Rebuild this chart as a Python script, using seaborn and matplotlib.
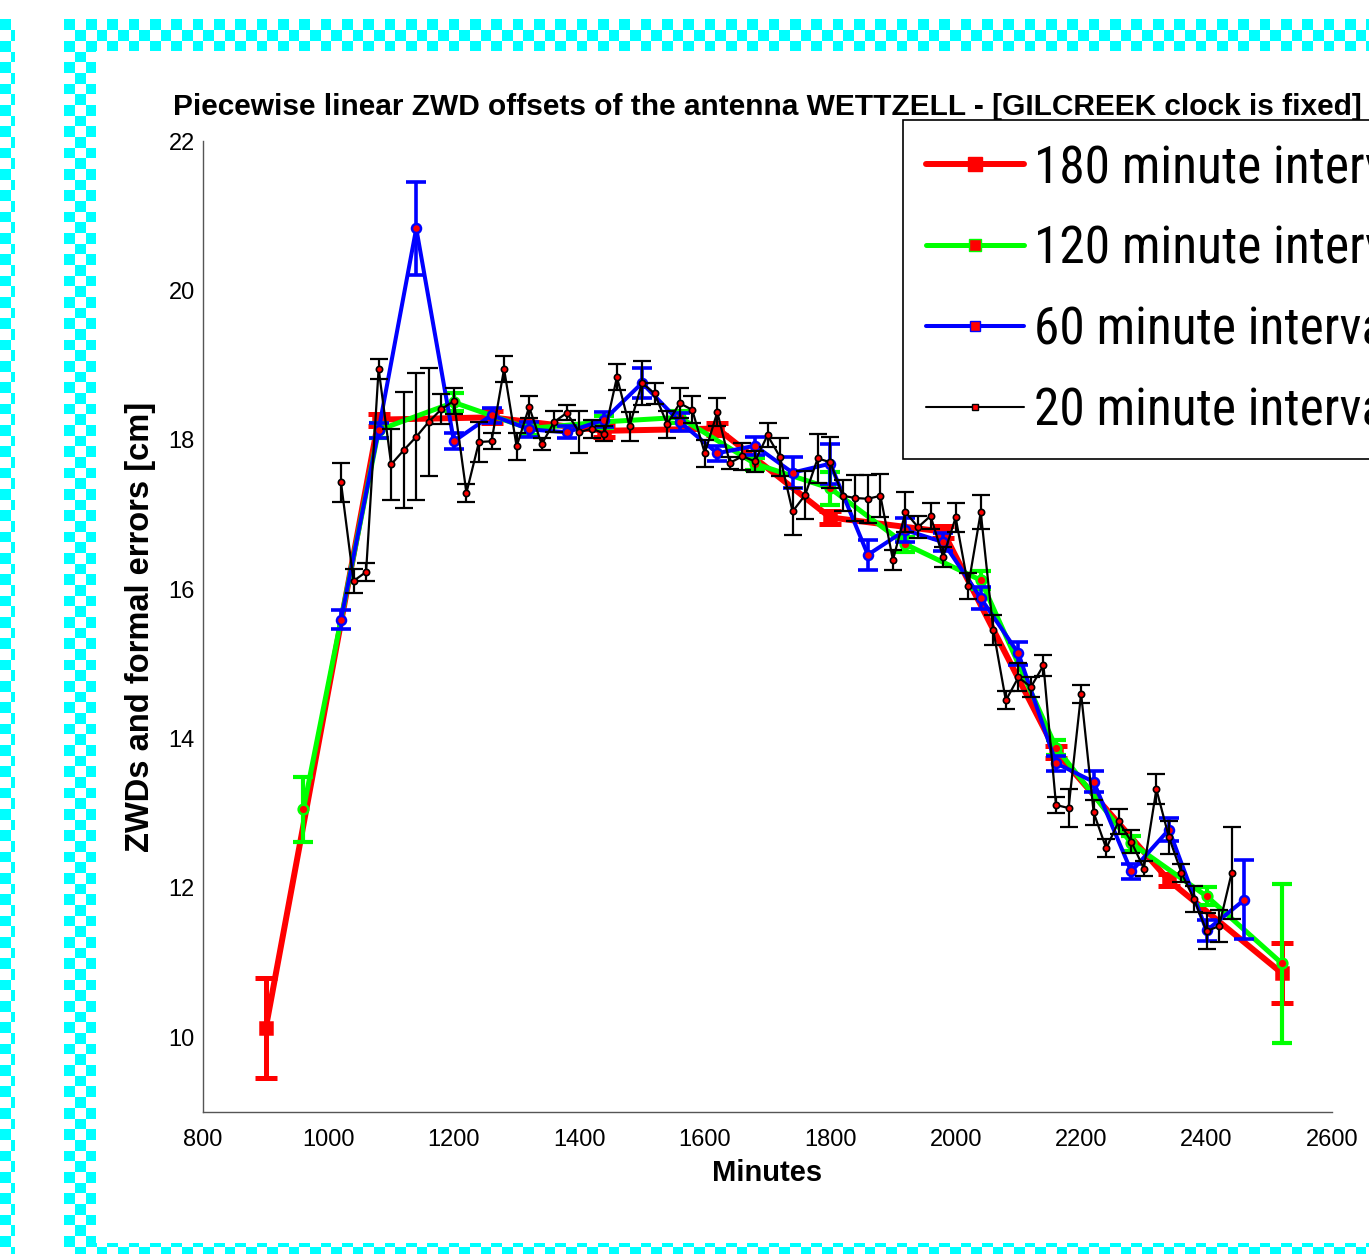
import numpy as np
import matplotlib
matplotlib.use("Agg")
import matplotlib.pyplot as plt
import seaborn as sns
from matplotlib.lines import Line2D

# ---------------- data ----------------
min180 = [900, 1080, 1260, 1440, 1620, 1800, 1980, 2160, 2340, 2520]
zwd180 = [10.12, 18.27, 18.30, 18.12, 18.15, 16.96, 16.77, 13.82, 12.10, 10.86]
err180 = [0.67, 0.08, 0.08, 0.08, 0.08, 0.09, 0.08, 0.08, 0.08, 0.40]

min120 = [960, 1080, 1200, 1320, 1440, 1560, 1680, 1800, 1920, 2040, 2160, 2280, 2400, 2520]
zwd120 = [13.05, 18.13, 18.50, 18.15, 18.24, 18.30, 17.68, 17.35, 16.60, 16.12, 13.88, 12.60, 11.89, 10.99]
err120 = [0.43, 0.10, 0.12, 0.08, 0.08, 0.08, 0.08, 0.22, 0.10, 0.12, 0.10, 0.10, 0.12, 1.06]

min60 = [1020, 1080, 1140, 1200, 1260, 1320, 1380, 1440, 1500, 1560, 1620, 1680, 1740,
         1800, 1860, 1920, 1980, 2040, 2100, 2160, 2220, 2280, 2340, 2400, 2460]
zwd60 = [15.59, 18.13, 20.83, 17.98, 18.33, 18.14, 18.10, 18.27, 18.76, 18.24, 17.82, 17.92, 17.56,
         17.68, 16.46, 16.79, 16.63, 15.88, 15.14, 13.67, 13.42, 12.22, 12.78, 11.43, 11.84]
err60 = [0.13, 0.10, 0.62, 0.11, 0.10, 0.10, 0.08, 0.10, 0.20, 0.12, 0.10, 0.12, 0.21,
         0.27, 0.20, 0.16, 0.12, 0.15, 0.15, 0.10, 0.14, 0.10, 0.15, 0.14, 0.53]

min20 = [1020, 1040, 1060, 1080, 1100, 1120, 1140, 1160, 1180, 1200, 1220, 1240, 1260, 1280,
         1300, 1320, 1340, 1360, 1380, 1400, 1420, 1440, 1460, 1480, 1500, 1520, 1540, 1560,
         1580, 1600, 1620, 1640, 1660, 1680, 1700, 1720, 1740, 1760, 1780, 1800, 1820, 1840,
         1860, 1880, 1900, 1920, 1940, 1960, 1980, 2000, 2020, 2040, 2060, 2080, 2100, 2120,
         2140, 2160, 2180, 2200, 2220, 2240, 2260, 2280, 2300, 2320, 2340, 2360, 2380, 2400,
         2420, 2440]
zwd20 = [17.43, 16.11, 16.23, 18.95, 17.67, 17.86, 18.04, 18.24, 18.41, 18.52, 17.29, 17.97, 17.98, 18.95,
         17.91, 18.44, 17.94, 18.24, 18.36, 18.10, 18.15, 18.08, 18.84, 18.18, 18.76, 18.62, 18.21, 18.49,
         18.40, 17.82, 18.37, 17.69, 17.78, 17.71, 18.06, 17.77, 17.04, 17.26, 17.75, 17.70, 17.25, 17.22,
         17.21, 17.25, 16.39, 17.03, 16.83, 16.98, 16.43, 16.96, 16.04, 17.03, 15.45, 14.51, 14.82, 14.69,
         14.98, 13.11, 13.07, 14.60, 13.01, 12.53, 12.89, 12.62, 12.26, 13.32, 12.68, 12.20, 11.85, 11.42,
         11.49, 12.20]
err20 = [0.26, 0.16, 0.12, 0.13, 0.48, 0.78, 0.85, 0.72, 0.20, 0.17, 0.12, 0.27, 0.11, 0.17,
         0.18, 0.15, 0.08, 0.14, 0.10, 0.28, 0.12, 0.10, 0.17, 0.19, 0.29, 0.14, 0.18, 0.20,
         0.18, 0.18, 0.19, 0.08, 0.18, 0.14, 0.16, 0.25, 0.32, 0.32, 0.33, 0.34, 0.21, 0.31,
         0.32, 0.29, 0.13, 0.27, 0.15, 0.18, 0.14, 0.20, 0.17, 0.23, 0.20, 0.12, 0.19, 0.13,
         0.14, 0.11, 0.26, 0.12, 0.17, 0.12, 0.17, 0.15, 0.10, 0.20, 0.22, 0.12, 0.17, 0.24,
         0.21, 0.61]

legend_labels = ["180 minute intervals", "120 minute intervals",
                 "60 minute intervals", "20 minute intervals"]
title_text = "Piecewise linear ZWD offsets of the antenna WETTZELL - [GILCREEK clock is fixed]"
xticks = [800, 1000, 1200, 1400, 1600, 1800, 2000, 2200, 2400, 2600]
yticks = [10, 12, 14, 16, 18, 20, 22]

# ---------------- style ----------------
sns.set_theme(style="white")
plt.rcParams["font.family"] = ["Liberation Sans", "DejaVu Sans"]
plt.rcParams["text.color"] = "black"
plt.rcParams["axes.labelcolor"] = "black"

W, H = 1369, 1254
fig = plt.figure(figsize=(W / 100, H / 100), dpi=100)
fig.patch.set_facecolor("white")

# checkered cyan frame (decoration)
yy, xx = np.mgrid[0:H, 0:W]
cell = 10.67
cx = np.floor((xx - 64) / cell).astype(int)
cy = np.floor((yy - 19) / cell).astype(int)
check = ((cx + cy) % 2 == 0)
region = np.zeros((H, W), bool)
region |= (yy >= 19) & (yy < 51) & (xx >= 64)
region |= (xx >= 64) & (xx < 96) & (yy >= 19)
region |= (yy >= 1243) & (xx >= 64)
region |= (xx < 15) & (yy >= 19)
img = np.zeros((H, W, 4))
img[region & check] = [0, 1, 1, 1]
img[region & ~check] = [1, 1, 1, 1]
fig.figimage(img, 0, 0, origin="upper", zorder=0)

ax = fig.add_axes([203 / W, 1 - 1112 / H, (1332 - 203) / W, (1112 - 141) / H])
ax.set_facecolor("none")

GREEN = (0, 1, 0)
series = [
    (min180, zwd180, err180, "red", 4.3, "s", 9, "red", 3.6, 8, 2),
    (min120, zwd120, err120, GREEN, 3.6, "o", 7, "red", 3.0, 7, 3),
    (min60, zwd60, err60, "blue", 2.9, "o", 6.5, "red", 2.6, 7, 4),
    (min20, zwd20, err20, "black", 1.6, "o", 4.5, "red", 1.6, 6.5, 5),
]
for xs, ys, es, col, lw, mk, ms, mfc, elw, cap, z in series:
    ax.errorbar(xs, ys, yerr=es, fmt="none", ecolor=col, elinewidth=elw,
                capsize=cap, capthick=elw, zorder=z)
    sns.lineplot(x=xs, y=ys, ax=ax, color=col, lw=lw, marker=mk, ms=ms,
                 mfc=mfc, mec=col, mew=1.8 if col != "black" else 1.2,
                 estimator=None, sort=False, zorder=z + 0.5)

ax.set_xlim(800, 2600)
ax.set_ylim(9, 22)
ax.set_xticks(xticks)
ax.set_yticks(yticks)
ax.tick_params(direction="in", length=9, width=1, color="#555555",
               labelcolor="black", labelsize=17)
ax.tick_params(axis="x", pad=12)
ax.tick_params(axis="y", pad=6)
for s in ["top", "right"]:
    ax.spines[s].set_visible(False)
for s in ["left", "bottom"]:
    ax.spines[s].set_color("#555555")
    ax.spines[s].set_linewidth(1.0)

ax.set_title(title_text, fontsize=21.5, fontweight="bold", pad=19, color="black")
ax.set_xlabel("Minutes", fontsize=21, fontweight="bold", labelpad=6)
ax.set_ylabel("ZWDs and formal errors [cm]", fontsize=23.5, fontweight="bold", labelpad=9)

handles = [
    Line2D([], [], color="red", lw=4.3, marker="s", ms=10, mfc="red", mec="red"),
    Line2D([], [], color=GREEN, lw=3.6, marker="s", ms=8, mfc="red", mec=GREEN),
    Line2D([], [], color="blue", lw=2.9, marker="s", ms=7, mfc="red", mec="blue"),
    Line2D([], [], color="black", lw=1.5, marker="s", ms=4, mfc="red", mec="black"),
]
leg = ax.legend(handles, legend_labels, loc="upper left",
                bbox_to_anchor=(903 / W, 1 - 120 / H), bbox_transform=fig.transFigure,
                prop={"family": ["Roboto Condensed", "DejaVu Sans Condensed", "Liberation Sans"],
                      "stretch": "condensed", "size": 37},
                frameon=True, fancybox=False, edgecolor="black", framealpha=1,
                borderaxespad=0, borderpad=0.45, handlelength=1.9,
                handletextpad=0.2, labelspacing=0.6)
leg.get_frame().set_linewidth(1.2)
leg.set_zorder(10)

fig.savefig("out.png", dpi=100)
